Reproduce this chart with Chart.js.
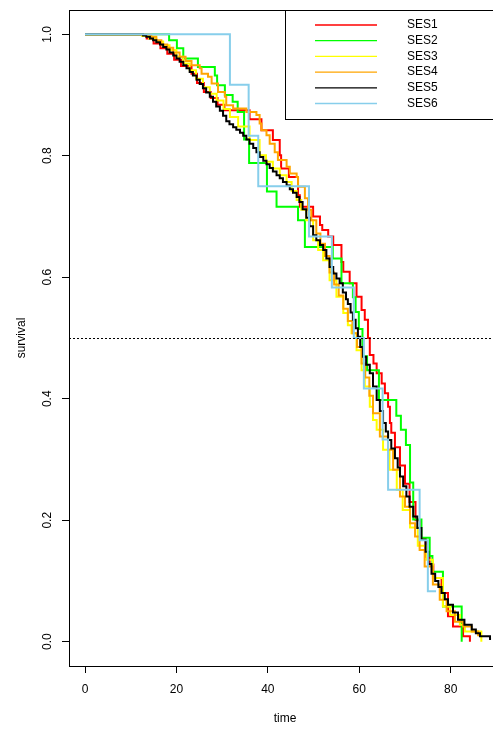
<!DOCTYPE html>
<html>
<head>
<meta charset="utf-8">
<script src="https://cdn.jsdelivr.net/npm/chart.js@4.4.1/dist/chart.umd.min.js"></script>
<style>
html,body{margin:0;padding:0;background:#fff;overflow:hidden;}
#wrap{position:relative;width:504px;height:731px;}
</style>
</head>
<body>
<div id="wrap"><canvas id="c"></canvas></div>
<script>
// ---------------- DATA ----------------
const seriesNames = ['SES1', 'SES2', 'SES3', 'SES4', 'SES5', 'SES6'];
const xTicks = [0, 20, 40, 60, 80];
const yTicks = [0.0, 0.2, 0.4, 0.6, 0.8, 1.0];
const medianRef = 0.5;

const ses1Time = [0, 13.5, 15.0, 16.5, 18.0, 19.5, 21.0, 23.3, 24.5, 26.0, 27.5, 29.0, 30.5, 36.0, 38.6, 41.1, 42.6, 42.9, 44.6, 46.6, 47.0, 49.9, 51.4, 51.9, 53.2, 54.3, 56.1, 56.5, 57.9, 59.4, 60.5, 61.2, 61.9, 62.3, 63.1, 63.8, 64.9, 65.6, 66.3, 66.7, 67.0, 67.8, 68.9, 70.0, 71.0, 72.3, 73.3, 74.5, 75.4, 76.2, 78.0, 79.4, 80.5, 82.7, 84.2];
const ses1Surv = [1, 0.993, 0.985, 0.977, 0.968, 0.958, 0.948, 0.935, 0.920, 0.905, 0.895, 0.884, 0.875, 0.860, 0.842, 0.826, 0.801, 0.779, 0.765, 0.735, 0.716, 0.700, 0.686, 0.678, 0.667, 0.653, 0.625, 0.609, 0.590, 0.568, 0.546, 0.530, 0.500, 0.472, 0.458, 0.442, 0.425, 0.409, 0.387, 0.360, 0.344, 0.320, 0.290, 0.260, 0.230, 0.200, 0.170, 0.140, 0.127, 0.105, 0.080, 0.042, 0.025, 0.009, 0];

const ses2Time = [0, 18.4, 20.1, 21.5, 24.7, 28.4, 28.9, 30.6, 32.3, 33.4, 34.8, 35.9, 39.8, 41.9, 46.6, 48.1, 54.2, 56.1, 58.6, 59.2, 59.9, 60.7, 61.7, 64.3, 68.1, 69.1, 70.2, 71.1, 71.8, 73.6, 75.4, 76.0, 78.3, 82.4];
const ses2Surv = [1, 0.990, 0.977, 0.960, 0.946, 0.932, 0.916, 0.900, 0.889, 0.872, 0.827, 0.788, 0.741, 0.716, 0.694, 0.650, 0.631, 0.590, 0.567, 0.543, 0.515, 0.470, 0.447, 0.398, 0.372, 0.349, 0.324, 0.262, 0.201, 0.171, 0.141, 0.115, 0.058, 0];

const ses3Time = [0, 12.5, 14.0, 15.6, 17.1, 18.5, 20.0, 21.5, 22.9, 24.3, 25.8, 27.3, 28.8, 30.3, 31.7, 33.5, 36.0, 38.2, 39.6, 41.1, 42.6, 44.1, 45.2, 46.3, 47.3, 48.4, 49.9, 51.0, 52.1, 53.5, 55.0, 56.5, 57.5, 58.3, 59.4, 60.5, 61.2, 62.3, 63.0, 63.8, 65.2, 66.6, 68.2, 69.5, 71.1, 72.8, 74.7, 76.1, 78.3, 79.9, 82.0, 83.1, 86.7];
const ses3Surv = [1, 0.997, 0.993, 0.988, 0.982, 0.974, 0.963, 0.952, 0.941, 0.927, 0.913, 0.902, 0.891, 0.877, 0.864, 0.848, 0.826, 0.801, 0.790, 0.779, 0.768, 0.757, 0.742, 0.727, 0.711, 0.694, 0.661, 0.645, 0.628, 0.595, 0.568, 0.541, 0.521, 0.508, 0.480, 0.447, 0.420, 0.387, 0.365, 0.349, 0.316, 0.283, 0.250, 0.217, 0.188, 0.158, 0.135, 0.105, 0.058, 0.044, 0.028, 0.017, 0];

const ses4Time = [0, 14.5, 15.6, 16.7, 18.0, 19.3, 20.7, 22.0, 23.3, 25.1, 25.5, 26.9, 27.7, 29.1, 30.6, 30.9, 32.4, 35.3, 37.5, 38.2, 38.6, 39.7, 40.4, 41.5, 42.2, 44.1, 44.8, 46.3, 46.6, 48.1, 48.8, 49.5, 50.6, 51.5, 52.5, 53.5, 54.5, 55.5, 56.5, 57.5, 58.5, 59.5, 60.5, 61.3, 62.2, 63.0, 64.5, 66.3, 67.4, 68.9, 70.0, 71.1, 72.2, 73.2, 74.3, 76.1, 77.6, 79.1, 80.9, 82.7, 84.6, 86.0];
const ses4Surv = [1, 0.996, 0.990, 0.983, 0.978, 0.970, 0.963, 0.956, 0.949, 0.944, 0.935, 0.930, 0.919, 0.905, 0.897, 0.883, 0.878, 0.872, 0.867, 0.853, 0.842, 0.834, 0.820, 0.806, 0.793, 0.782, 0.771, 0.765, 0.749, 0.730, 0.711, 0.694, 0.672, 0.655, 0.635, 0.608, 0.588, 0.570, 0.548, 0.528, 0.508, 0.485, 0.458, 0.435, 0.405, 0.376, 0.338, 0.316, 0.283, 0.239, 0.222, 0.195, 0.173, 0.151, 0.124, 0.094, 0.069, 0.050, 0.033, 0.025, 0.017, 0.009];

const ses5Time = [0, 12.7, 13.4, 14.2, 14.9, 15.6, 16.4, 17.1, 17.8, 18.5, 19.3, 20.0, 20.7, 21.5, 22.2, 22.9, 23.6, 24.4, 25.1, 25.8, 26.5, 27.3, 28.0, 28.7, 29.5, 30.2, 30.9, 31.6, 32.4, 33.1, 33.9, 34.6, 35.3, 36.0, 36.8, 37.5, 38.2, 39.0, 39.7, 40.4, 41.1, 41.9, 42.6, 43.3, 44.1, 44.8, 45.5, 46.3, 46.9, 47.6, 48.4, 49.1, 49.9, 50.6, 51.4, 52.1, 52.8, 53.5, 54.3, 55.0, 55.7, 56.4, 57.1, 57.5, 58.1, 58.6, 59.2, 59.7, 60.2, 60.8, 61.5, 62.3, 63.0, 63.8, 64.5, 65.2, 65.8, 66.3, 67.0, 67.8, 68.4, 68.9, 69.6, 70.3, 71.0, 71.8, 72.7, 73.6, 74.5, 75.1, 75.8, 76.6, 77.3, 78.0, 78.7, 79.4, 80.5, 81.6, 83.0, 84.6, 85.5, 86.4, 88.6];
const ses5Surv = [1, 0.998, 0.996, 0.993, 0.990, 0.987, 0.983, 0.979, 0.975, 0.970, 0.965, 0.960, 0.955, 0.949, 0.944, 0.938, 0.932, 0.925, 0.918, 0.911, 0.904, 0.897, 0.889, 0.881, 0.874, 0.866, 0.857, 0.852, 0.847, 0.843, 0.838, 0.833, 0.827, 0.820, 0.813, 0.806, 0.798, 0.792, 0.786, 0.780, 0.774, 0.768, 0.763, 0.757, 0.751, 0.745, 0.739, 0.732, 0.724, 0.712, 0.698, 0.684, 0.669, 0.661, 0.653, 0.645, 0.631, 0.617, 0.606, 0.598, 0.590, 0.575, 0.564, 0.556, 0.542, 0.530, 0.516, 0.502, 0.485, 0.469, 0.456, 0.442, 0.420, 0.398, 0.380, 0.360, 0.346, 0.332, 0.318, 0.302, 0.287, 0.272, 0.256, 0.239, 0.222, 0.206, 0.187, 0.168, 0.148, 0.128, 0.112, 0.100, 0.090, 0.080, 0.070, 0.061, 0.048, 0.036, 0.028, 0.020, 0.014, 0.009, 0.003];

const ses6Time = [0, 31.7, 35.8, 37.9, 49.0, 54.0, 58.8, 61.0, 65.1, 66.3, 73.2, 75.0, 76.8];
const ses6Surv = [1, 0.917, 0.833, 0.750, 0.667, 0.583, 0.500, 0.417, 0.333, 0.250, 0.167, 0.083, 0.083];

const seriesTimes = [ses1Time, ses2Time, ses3Time, ses4Time, ses5Time, ses6Time];
const seriesSurv = [ses1Surv, ses2Surv, ses3Surv, ses4Surv, ses5Surv, ses6Surv];

// ---------------- STYLE ----------------
const seriesColors = ['#FF0000', '#00FF00', '#FFFF00', '#FFA500', '#000000', '#87CEEB'];
const FONT = "'Liberation Sans', Arial, Helvetica, sans-serif";
Chart.defaults.font.family = FONT;
Chart.defaults.font.size = 12;
Chart.defaults.color = '#000';

const datasets = seriesNames.map((name, i) => ({
  label: name,
  data: seriesTimes[i].map((t, j) => ({ x: t, y: seriesSurv[i][j] })),
  borderColor: seriesColors[i],
  backgroundColor: seriesColors[i],
  borderWidth: 2,
  stepped: true,
  pointRadius: 0,
  pointHoverRadius: 0,
  fill: false,
  tension: 0,
  order: seriesNames.length - 1 - i
}));

const boxPlugin = {
  id: 'boxAndRef',
  afterDatasetsDraw(chart) {
    const { ctx, chartArea: a, scales } = chart;
    const y = Math.round(scales.y.getPixelForValue(medianRef)) + 0.5;
    ctx.save();
    ctx.strokeStyle = '#000';
    ctx.lineWidth = 1;
    ctx.setLineDash([2, 2]);
    ctx.beginPath();
    ctx.moveTo(a.left, y);
    ctx.lineTo(a.right, y);
    ctx.stroke();
    ctx.restore();
  },
  afterDraw(chart) {
    const { ctx, chartArea: a } = chart;
    ctx.save();
    ctx.strokeStyle = '#000';
    ctx.lineWidth = 1;
    ctx.strokeRect(Math.round(a.left) + 0.5, Math.round(a.top) + 0.5,
                   Math.round(a.right - a.left), Math.round(a.bottom - a.top));
    const lx = 285.5, ly = Math.round(a.top) + 0.5, lw = 260, lh = 109;
    ctx.fillStyle = '#fff';
    ctx.fillRect(lx, ly, lw, lh);
    ctx.strokeRect(lx, ly, lw, lh);
    ctx.font = '12px ' + FONT;
    ctx.textBaseline = 'middle';
    ctx.textAlign = 'left';
    chart.data.datasets.forEach((ds, i) => {
      const yy = 25 + i * 15.7;
      ctx.strokeStyle = ds.borderColor;
      ctx.lineWidth = 1.3;
      ctx.beginPath();
      ctx.moveTo(315, yy);
      ctx.lineTo(377, yy);
      ctx.stroke();
      ctx.fillStyle = '#000';
      ctx.fillText(ds.label, 407, yy);
    });
    ctx.restore();
  }
};

new Chart(document.getElementById('c'), {
  type: 'line',
  data: { datasets },
  options: {
    responsive: true,
    maintainAspectRatio: false,
    animation: false,
    devicePixelRatio: 1,
    layout: { padding: { left: 0, right: 3, top: 10, bottom: 0 } },
    plugins: { legend: { display: false }, tooltip: { enabled: false } },
    scales: {
      x: {
        type: 'linear',
        min: -3.5,
        max: 91,
        afterBuildTicks: s => { s.ticks = xTicks.map(v => ({ value: v })); },
        afterFit: s => { s.height = 65; s.paddingLeft = 0; s.paddingRight = 0; },
        ticks: { color: '#000', padding: 9, maxRotation: 0, autoSkip: false, font: { size: 12 } },
        grid: { display: true, drawOnChartArea: false, drawTicks: true, tickLength: 7, color: '#000', lineWidth: 1 },
        border: { display: true, color: '#000', width: 1 },
        title: { display: true, text: 'time', color: '#000', font: { size: 12 }, padding: { top: 0, bottom: 4.8 } }
      },
      y: {
        type: 'linear',
        min: -0.04,
        max: 1.04,
        afterBuildTicks: s => { s.ticks = yTicks.map(v => ({ value: v })); },
        afterFit: s => { s.width = 69; s.paddingTop = 0; s.paddingBottom = 0; },
        ticks: { color: '#000', padding: 5.5, minRotation: 90, maxRotation: 90, crossAlign: 'center', autoSkip: false,
                 font: { size: 12 }, callback: v => Number(v).toFixed(1) },
        grid: { display: true, drawOnChartArea: false, drawTicks: true, tickLength: 7, color: '#000', lineWidth: 1 },
        border: { display: true, color: '#000', width: 1 },
        title: { display: true, text: 'survival', color: '#000', font: { size: 12 }, padding: { top: 14.5, bottom: 0 } }
      }
    }
  },
  plugins: [boxPlugin]
});
</script>
</body>
</html>
